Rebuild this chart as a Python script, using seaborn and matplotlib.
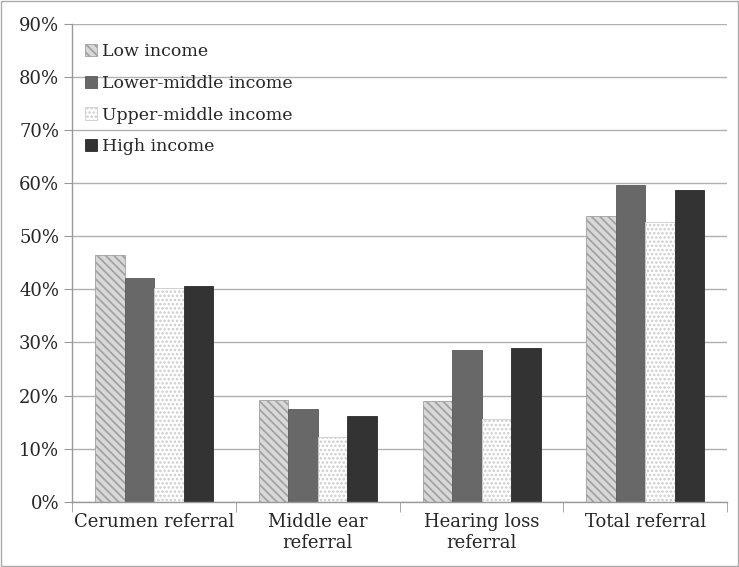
import numpy as np
import pandas as pd
import matplotlib
matplotlib.use("Agg")
import matplotlib.pyplot as plt
import seaborn as sns
from matplotlib.ticker import FixedLocator, PercentFormatter
from matplotlib.patches import Patch

categories = ["Cerumen referral", "Middle ear\nreferral", "Hearing loss\nreferral", "Total referral"]
groups = ["Low income", "Lower-middle income", "Upper-middle income", "High income"]

low_income = [46.5, 19.1, 18.9, 53.8]
lower_middle = [42.1, 17.4, 28.6, 59.7]
upper_middle = [40.3, 12.2, 15.6, 52.7]
high_income = [40.7, 16.2, 29.0, 58.7]

df = pd.DataFrame({
    "category": categories * 4,
    "group": np.repeat(groups, 4),
    "value": low_income + lower_middle + upper_middle + high_income,
})

sns.set_style("white")
plt.rcParams["font.family"] = ["DejaVu Serif"]
plt.rcParams["hatch.linewidth"] = 1.2

fig, ax = plt.subplots(figsize=(7.39, 5.67), dpi=100)
fig.subplots_adjust(left=0.098, right=0.984, top=0.958, bottom=0.115)

sns.barplot(data=df, x="category", y="value", hue="group", hue_order=groups,
            order=categories, width=0.72, gap=0, ax=ax, saturation=1,
            palette=["#d0d0d0", "#686868", "#ffffff", "#333333"], legend=False)

styles = [
    dict(facecolor="#d8d8d8", hatch="\\\\\\\\", edgecolor="#a0a0a0"),
    dict(facecolor="#686868", hatch="", edgecolor="#5a5a5a"),
    dict(facecolor="#ffffff", hatch="....", edgecolor="#cccccc"),
    dict(facecolor="#333333", hatch="", edgecolor="#2a2a2a"),
]
for cont, st in zip(ax.containers, styles):
    for bar in cont:
        bar.set_facecolor(st["facecolor"])
        bar.set_edgecolor(st["edgecolor"])
        bar.set_hatch(st["hatch"])
        bar.set_linewidth(0.6)

ax.set_ylim(0, 90)
ax.set_xlim(-0.5, 3.5)
ax.yaxis.set_major_locator(FixedLocator(np.arange(0, 91, 10)))
ax.yaxis.set_major_formatter(PercentFormatter(decimals=0))
ax.grid(axis="y", color="#b0b0b0", linewidth=1)
ax.set_axisbelow(True)
ax.set_xlabel("")
ax.set_ylabel("")

ax.tick_params(axis="y", which="major", length=6, color="#999999", labelsize=13, direction="out", left=True)
ax.tick_params(axis="x", which="major", length=0, labelsize=13, pad=8)
ax.xaxis.set_minor_locator(FixedLocator([-0.5, 0.5, 1.5, 2.5, 3.5]))
ax.tick_params(axis="x", which="minor", length=7, color="#999999", bottom=True, direction="out")

for side in ["top", "right"]:
    ax.spines[side].set_visible(False)
for side in ["left", "bottom"]:
    ax.spines[side].set_color("#999999")
    ax.spines[side].set_linewidth(1)

handles = [Patch(facecolor=st["facecolor"], edgecolor=st["edgecolor"], hatch=st["hatch"],
                 linewidth=0.6, label=g) for st, g in zip(styles, groups)]
ax.legend(handles=handles, loc="upper left", bbox_to_anchor=(0.0, 0.985), frameon=False,
          fontsize=12.5, handlelength=0.7, handleheight=0.7, handletextpad=0.3,
          labelspacing=0.85, borderaxespad=0.3)

fig.patches.append(plt.Rectangle((0.001, 0.001), 0.997, 0.997, transform=fig.transFigure,
                                 fill=False, edgecolor="#aaaaaa", linewidth=1))

fig.savefig("out.png", dpi=100)
